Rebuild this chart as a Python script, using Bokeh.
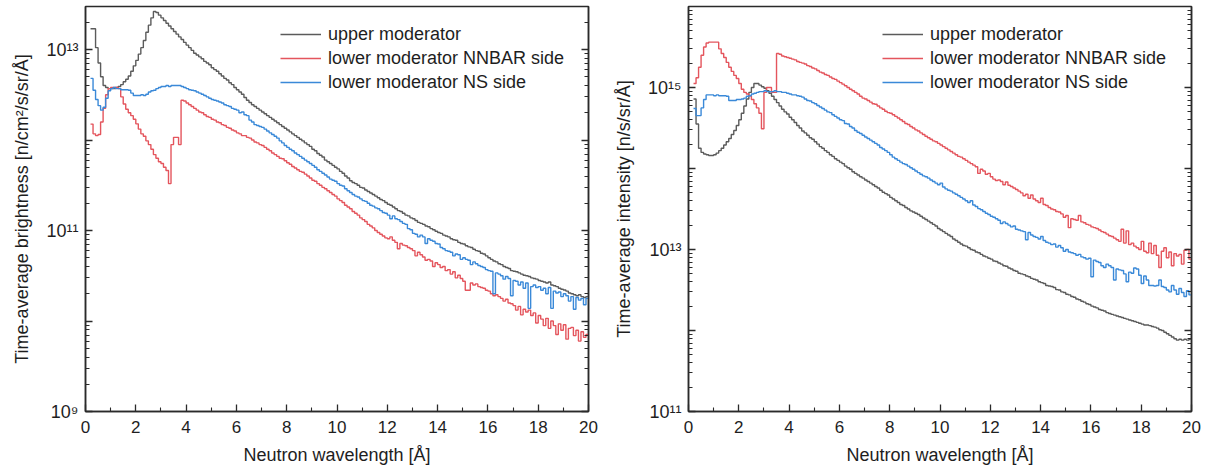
import numpy as np
from bokeh.plotting import figure
from bokeh.layouts import row
from bokeh.models import (Range1d, FixedTicker, CustomJSTickFormatter, LogAxis)
from bokeh.embed import file_html
from bokeh.resources import INLINE

# ---------------- data ----------------
# histogram bin left edges: 0.2 .. 19.9 Å (bin width 0.1 Å), last edge 20.0
bin_start = 0.2
bin_width = 0.1
bin_stop = 20.0

series_names = ["upper moderator", "lower moderator NNBAR side", "lower moderator NS side"]

# Left panel: time-average brightness [n/cm²/s/sr/Å]
brightness_upper = [
    1.7e13, 1.7e13, 1.05e13, 7.1e12, 5.0e12, 4.0e12, 3.8e12, 3.7e12,
    3.7e12, 3.7e12, 3.8e12, 3.9e12, 4.1e12, 4.4e12, 4.7e12, 5.1e12, 5.75e12, 6.6e12,
    7.6e12, 8.9e12, 1.05e13, 1.26e13, 1.55e13, 1.86e13, 2.24e13, 2.63e13, 2.57e13, 2.4e13,
    2.24e13, 2.09e13, 1.95e13, 1.82e13, 1.7e13, 1.58e13, 1.48e13, 1.38e13, 1.29e13, 1.2e13,
    1.12e13, 1.05e13, 9.8e12, 9.1e12, 8.7e12, 8.3e12, 7.9e12, 7.4e12, 7.1e12, 6.8e12,
    6.3e12, 6.0e12, 5.75e12, 5.4e12, 5.1e12, 4.8e12, 4.6e12, 4.3e12, 4.1e12, 3.8e12,
    3.6e12, 3.4e12, 3.2e12, 2.95e12, 2.75e12, 2.6e12, 2.45e12, 2.35e12, 2.24e12, 2.14e12,
    2.04e12, 1.95e12, 1.86e12, 1.78e12, 1.7e12, 1.62e12, 1.55e12, 1.48e12, 1.41e12, 1.35e12,
    1.29e12, 1.23e12, 1.17e12, 1.12e12, 1.07e12, 1.02e12, 9.8e11, 9.3e11, 8.9e11, 8.5e11,
    7.9e11, 7.6e11, 7.1e11, 6.8e11, 6.5e11, 6.0e11, 5.75e11, 5.5e11, 5.25e11, 5.0e11,
    4.8e11, 4.5e11, 4.3e11, 4.0e11, 3.8e11, 3.55e11, 3.4e11, 3.3e11, 3.16e11, 3.0e11,
    2.95e11, 2.8e11, 2.7e11, 2.6e11, 2.5e11, 2.4e11, 2.3e11, 2.2e11, 2.14e11, 2.04e11,
    1.95e11, 1.9e11, 1.82e11, 1.74e11, 1.66e11, 1.62e11, 1.55e11, 1.48e11, 1.45e11, 1.38e11,
    1.35e11, 1.29e11, 1.23e11, 1.2e11, 1.17e11, 1.12e11, 1.1e11, 1.05e11, 1.02e11, 9.8e10,
    9.5e10, 9.3e10, 8.9e10, 8.7e10, 8.5e10, 8.1e10, 7.9e10, 7.8e10, 7.4e10, 7.2e10,
    7.1e10, 6.8e10, 6.6e10, 6.5e10, 6.2e10, 6.0e10, 5.9e10, 5.6e10, 5.5e10, 5.25e10,
    5.0e10, 4.8e10, 4.6e10, 4.5e10, 4.3e10, 4.2e10, 4.0e10, 3.9e10, 3.8e10, 3.6e10,
    3.55e10, 3.5e10, 3.4e10, 3.3e10, 3.2e10, 3.16e10, 3.1e10, 3.0e10, 2.95e10, 2.9e10,
    2.8e10, 2.75e10, 2.7e10, 2.63e10, 2.7e10, 2.5e10, 2.45e10, 2.4e10, 2.3e10, 2.24e10,
    2.2e10, 2.14e10, 2.04e10, 2.0e10, 1.95e10, 1.9e10, 1.95e10, 1.86e10, 1.82e10, 1.86e10,
]
brightness_nnbar = [
    1.5e12, 1.17e12, 1.12e12, 1.15e12, 1.58e12, 2.24e12, 3.16e12, 3.7e12,
    3.8e12, 3.8e12, 3.8e12, 3.7e12, 3.0e12, 2.5e12, 2.19e12, 2.0e12, 1.86e12, 1.7e12,
    1.51e12, 1.32e12, 1.17e12, 1.1e12, 9.8e11, 8.9e11, 7.9e11, 6.9e11, 6.3e11, 5.75e11,
    5.5e11, 5.0e11, 4.6e11, 3.3e11, 8.9e11, 1.07e12, 1.07e12, 8.9e11, 2.75e12, 2.7e12,
    2.57e12, 2.45e12, 2.35e12, 2.24e12, 2.14e12, 2.04e12, 2.0e12, 1.9e12, 1.82e12, 1.78e12,
    1.7e12, 1.66e12, 1.58e12, 1.55e12, 1.48e12, 1.45e12, 1.38e12, 1.35e12, 1.29e12, 1.26e12,
    1.2e12, 1.17e12, 1.12e12, 1.12e12, 1.07e12, 1.05e12, 1.0e12, 9.5e11, 9.3e11, 8.9e11,
    8.7e11, 8.3e11, 7.9e11, 7.6e11, 7.2e11, 6.9e11, 6.6e11, 6.3e11, 6.2e11, 5.9e11,
    5.6e11, 5.4e11, 5.1e11, 4.9e11, 4.7e11, 4.5e11, 4.4e11, 4.2e11, 4.0e11, 3.8e11,
    3.6e11, 3.5e11, 3.3e11, 3.16e11, 3.0e11, 2.9e11, 2.75e11, 2.63e11, 2.5e11, 2.4e11,
    2.24e11, 2.14e11, 2.04e11, 1.9e11, 1.82e11, 1.74e11, 1.62e11, 1.55e11, 1.48e11, 1.38e11,
    1.32e11, 1.26e11, 1.17e11, 1.12e11, 1.07e11, 1.0e11, 9.5e10, 9.1e10, 8.7e10, 8.3e10,
    8.1e10, 8.5e10, 7.8e10, 7.4e10, 6.3e10, 7.2e10, 6.9e10, 6.8e10, 6.5e10, 6.3e10,
    6.0e10, 5.25e10, 5.75e10, 5.4e10, 5.1e10, 4.7e10, 4.8e10, 4.6e10, 4.0e10, 4.4e10,
    4.2e10, 3.9e10, 4.0e10, 3.6e10, 3.7e10, 3.3e10, 3.5e10, 3.0e10, 3.2e10, 2.95e10,
    2.75e10, 2.19e10, 2.19e10, 2.63e10, 2.5e10, 2.57e10, 2.4e10, 2.35e10, 2.3e10, 2.19e10,
    2.14e10, 2.0e10, 1.9e10, 1.95e10, 1.86e10, 1.78e10, 1.66e10, 1.74e10, 1.58e10, 1.55e10,
    1.48e10, 1.32e10, 1.45e10, 1.17e10, 1.35e10, 1.26e10, 1.32e10, 1.15e10, 1.23e10, 9.5e9,
    1.15e10, 1.05e10, 8.9e9, 1.07e10, 8.3e9, 1.0e10, 8.9e9, 7.1e9, 9.3e9, 7.9e9,
    9.1e9, 6.3e9, 8.3e9, 8.5e9, 6.9e9, 7.9e9, 6.0e9, 7.6e9, 6.6e9, 7.1e9,
]
brightness_ns = [
    4.8e12, 3.55e12, 2.8e12, 2.4e12, 2.14e12, 2.3e12, 2.9e12, 3.5e12,
    3.7e12, 3.8e12, 3.7e12, 3.7e12, 3.6e12, 3.6e12, 3.6e12, 3.55e12, 3.3e12, 3.1e12,
    3.1e12, 3.1e12, 3.16e12, 3.1e12, 3.2e12, 3.4e12, 3.5e12, 3.55e12, 3.7e12, 3.8e12,
    3.9e12, 3.9e12, 4.0e12, 3.9e12, 4.0e12, 4.0e12, 4.0e12, 4.0e12, 3.9e12, 3.8e12,
    3.7e12, 3.6e12, 3.55e12, 3.5e12, 3.4e12, 3.3e12, 3.2e12, 3.1e12, 3.0e12, 2.9e12,
    2.8e12, 2.75e12, 2.7e12, 2.63e12, 2.57e12, 2.45e12, 2.4e12, 2.35e12, 2.24e12, 2.19e12,
    2.14e12, 2.0e12, 2.04e12, 1.9e12, 1.86e12, 1.66e12, 1.58e12, 1.48e12, 1.45e12, 1.41e12,
    1.38e12, 1.32e12, 1.26e12, 1.2e12, 1.15e12, 1.1e12, 1.05e12, 9.8e11, 9.3e11, 8.7e11,
    8.3e11, 7.9e11, 7.6e11, 7.2e11, 6.9e11, 6.6e11, 6.3e11, 6.0e11, 5.75e11, 5.5e11,
    5.25e11, 5.0e11, 4.7e11, 4.5e11, 4.3e11, 4.1e11, 3.9e11, 3.7e11, 3.6e11, 3.5e11,
    3.3e11, 3.16e11, 3.1e11, 2.9e11, 2.75e11, 2.63e11, 2.5e11, 2.4e11, 2.35e11, 2.24e11,
    2.14e11, 2.1e11, 2.0e11, 1.9e11, 1.86e11, 1.78e11, 1.74e11, 1.66e11, 1.58e11, 1.55e11,
    1.48e11, 1.35e11, 1.45e11, 1.35e11, 1.32e11, 1.26e11, 1.2e11, 1.17e11, 1.05e11, 1.02e11,
    9.3e10, 9.1e10, 8.5e10, 8.9e10, 8.5e10, 7.2e10, 8.1e10, 7.8e10, 7.6e10, 7.2e10,
    7.1e10, 6.5e10, 6.3e10, 6.0e10, 5.9e10, 5.75e10, 5.25e10, 5.5e10, 5.4e10, 4.8e10,
    5.0e10, 4.8e10, 4.7e10, 4.2e10, 4.5e10, 4.3e10, 4.1e10, 4.0e10, 3.9e10, 3.7e10,
    3.6e10, 3.55e10, 2.0e10, 3.4e10, 3.3e10, 3.16e10, 2.9e10, 3.1e10, 2.95e10, 1.9e10,
    2.8e10, 2.75e10, 2.5e10, 2.7e10, 2.3e10, 2.63e10, 1.38e10, 2.4e10, 2.5e10, 2.35e10,
    2.4e10, 2.19e10, 2.3e10, 2.0e10, 2.35e10, 1.38e10, 2.14e10, 2.04e10, 2.09e10, 1.86e10,
    2.0e10, 1.9e10, 1.66e10, 1.86e10, 1.35e10, 1.82e10, 1.7e10, 1.78e10, 1.51e10, 1.78e10,
]

# Right panel: time-average intensity [n/s/sr/Å]
intensity_upper = [
    7.2e14, 3.55e14, 1.78e14, 1.58e14, 1.51e14, 1.48e14, 1.45e14, 1.45e14,
    1.48e14, 1.55e14, 1.66e14, 1.78e14, 1.95e14, 2.14e14, 2.35e14, 2.63e14, 2.95e14, 3.4e14,
    4.0e14, 4.8e14, 5.9e14, 7.2e14, 8.7e14, 1.0e15, 1.12e15, 1.12e15, 1.07e15, 1.02e15,
    9.8e14, 9.1e14, 8.5e14, 7.8e14, 7.1e14, 6.5e14, 5.9e14, 5.4e14, 5.0e14, 4.7e14,
    4.3e14, 4.0e14, 3.7e14, 3.4e14, 3.16e14, 2.9e14, 2.75e14, 2.57e14, 2.4e14, 2.3e14,
    2.14e14, 2.0e14, 1.86e14, 1.78e14, 1.66e14, 1.58e14, 1.48e14, 1.41e14, 1.32e14, 1.26e14,
    1.2e14, 1.15e14, 1.07e14, 1.02e14, 9.8e13, 9.1e13, 8.7e13, 8.3e13, 7.9e13, 7.6e13,
    7.2e13, 6.9e13, 6.6e13, 6.3e13, 6.0e13, 5.75e13, 5.4e13, 5.1e13, 4.9e13, 4.7e13,
    4.4e13, 4.2e13, 4.0e13, 3.8e13, 3.6e13, 3.5e13, 3.3e13, 3.16e13, 3.0e13, 2.9e13,
    2.8e13, 2.7e13, 2.57e13, 2.45e13, 2.35e13, 2.24e13, 2.14e13, 2.04e13, 1.95e13, 1.82e13,
    1.74e13, 1.66e13, 1.58e13, 1.51e13, 1.45e13, 1.35e13, 1.29e13, 1.23e13, 1.17e13, 1.12e13,
    1.1e13, 1.05e13, 1.0e13, 9.8e12, 9.3e12, 9.1e12, 8.7e12, 8.3e12, 8.1e12, 7.8e12,
    7.6e12, 7.2e12, 7.1e12, 6.8e12, 6.6e12, 6.3e12, 6.2e12, 5.9e12, 5.75e12, 5.5e12,
    5.4e12, 5.1e12, 5.0e12, 4.9e12, 4.7e12, 4.6e12, 4.4e12, 4.3e12, 4.2e12, 4.0e12,
    3.9e12, 3.8e12, 3.6e12, 3.55e12, 3.5e12, 3.4e12, 3.2e12, 3.16e12, 3.0e12, 2.95e12,
    2.8e12, 2.75e12, 2.63e12, 2.57e12, 2.45e12, 2.4e12, 2.3e12, 2.24e12, 2.14e12, 2.09e12,
    2.0e12, 1.95e12, 1.9e12, 1.82e12, 1.78e12, 1.74e12, 1.66e12, 1.62e12, 1.58e12, 1.55e12,
    1.51e12, 1.48e12, 1.45e12, 1.41e12, 1.38e12, 1.35e12, 1.32e12, 1.29e12, 1.26e12, 1.23e12,
    1.2e12, 1.17e12, 1.17e12, 1.15e12, 1.12e12, 1.1e12, 1.07e12, 1.02e12, 1.0e12, 9.5e11,
    9.1e11, 8.7e11, 8.3e11, 7.9e11, 7.6e11, 7.8e11, 7.6e11, 7.8e11, 7.6e11, 7.8e11,
]
intensity_nnbar = [
    1.12e15, 1.32e15, 1.78e15, 2.5e15, 3.16e15, 3.55e15, 3.63e15, 3.63e15,
    3.63e15, 3.63e15, 3.0e15, 2.63e15, 2.35e15, 2.04e15, 1.78e15, 1.58e15, 1.41e15, 1.29e15,
    1.12e15, 9.5e14, 8.7e14, 8.3e14, 7.9e14, 7.1e14, 6.3e14, 5.6e14, 4.8e14, 3.1e14,
    8.7e14, 1.0e15, 1.0e15, 8.7e14, 8.7e14, 2.63e15, 2.57e15, 2.45e15, 2.4e15, 2.35e15,
    2.3e15, 2.24e15, 2.19e15, 2.09e15, 2.04e15, 2.0e15, 1.95e15, 1.86e15, 1.82e15, 1.74e15,
    1.7e15, 1.62e15, 1.55e15, 1.51e15, 1.45e15, 1.41e15, 1.35e15, 1.29e15, 1.26e15, 1.2e15,
    1.15e15, 1.1e15, 1.05e15, 1.0e15, 9.5e14, 9.1e14, 8.7e14, 8.3e14, 7.8e14, 7.4e14,
    7.2e14, 6.9e14, 6.6e14, 6.3e14, 6.2e14, 5.9e14, 5.6e14, 5.4e14, 5.1e14, 4.9e14,
    4.8e14, 4.6e14, 4.4e14, 4.2e14, 4.0e14, 3.8e14, 3.6e14, 3.5e14, 3.3e14, 3.16e14,
    3.0e14, 2.9e14, 2.75e14, 2.63e14, 2.5e14, 2.4e14, 2.3e14, 2.19e14, 2.14e14, 2.04e14,
    1.95e14, 1.86e14, 1.78e14, 1.7e14, 1.62e14, 1.55e14, 1.48e14, 1.41e14, 1.38e14, 1.32e14,
    1.26e14, 1.2e14, 1.15e14, 1.1e14, 1.05e14, 8.7e13, 9.8e13, 9.3e13, 8.5e13, 8.7e13,
    7.9e13, 7.4e13, 7.1e13, 7.2e13, 6.9e13, 6.3e13, 6.8e13, 6.2e13, 6.0e13, 5.75e13,
    5.5e13, 5.25e13, 5.0e13, 4.6e13, 4.8e13, 4.3e13, 4.7e13, 4.2e13, 4.0e13, 3.8e13,
    4.3e13, 3.6e13, 3.5e13, 3.3e13, 3.16e13, 3.1e13, 2.95e13, 2.9e13, 2.75e13, 2.5e13,
    2.63e13, 1.86e13, 2.4e13, 2.35e13, 2.3e13, 2.63e13, 2.19e13, 2.14e13, 2.04e13, 2.0e13,
    1.9e13, 1.86e13, 1.82e13, 1.74e13, 1.66e13, 1.62e13, 1.55e13, 1.48e13, 1.45e13, 1.38e13,
    1.32e13, 1.26e13, 1.78e13, 1.2e13, 1.7e13, 1.15e13, 1.2e13, 1.1e13, 1.05e13, 1.0e13,
    1.26e13, 9.5e12, 9.1e12, 1.2e13, 8.9e12, 1.12e13, 8.5e12, 6.0e12, 9.5e12, 1.05e13,
    7.9e12, 9.3e12, 6.3e12, 8.9e12, 8.3e12, 8.7e12, 6.6e12, 9.8e12, 1.0e13, 7.6e12,
]
intensity_ns = [
    5.5e14, 4.5e14, 4.5e14, 5.6e14, 7.1e14, 8.1e14, 8.1e14, 8.1e14,
    7.9e14, 8.1e14, 7.9e14, 7.9e14, 7.9e14, 7.8e14, 6.9e14, 6.9e14, 6.9e14, 7.1e14,
    7.1e14, 7.2e14, 7.4e14, 7.8e14, 7.9e14, 8.3e14, 8.5e14, 8.7e14, 8.9e14, 8.9e14,
    9.1e14, 8.9e14, 8.9e14, 8.9e14, 9.1e14, 8.9e14, 8.9e14, 8.7e14, 8.7e14, 8.5e14,
    8.3e14, 8.1e14, 8.1e14, 7.9e14, 7.8e14, 7.6e14, 7.2e14, 6.9e14, 6.8e14, 6.5e14,
    6.3e14, 6.0e14, 5.75e14, 5.5e14, 5.25e14, 5.0e14, 4.9e14, 4.6e14, 4.4e14, 4.2e14,
    4.0e14, 3.9e14, 3.6e14, 3.55e14, 3.3e14, 3.16e14, 2.95e14, 2.8e14, 2.7e14, 2.57e14,
    2.45e14, 2.35e14, 2.24e14, 2.14e14, 2.04e14, 1.95e14, 1.82e14, 1.74e14, 1.66e14, 1.58e14,
    1.48e14, 1.38e14, 1.32e14, 1.26e14, 1.2e14, 1.15e14, 1.12e14, 1.07e14, 1.02e14, 9.8e13,
    9.3e13, 8.9e13, 8.5e13, 8.1e13, 7.9e13, 7.6e13, 7.2e13, 6.9e13, 6.6e13, 6.3e13,
    6.6e13, 5.9e13, 5.6e13, 5.4e13, 5.25e13, 5.0e13, 4.8e13, 4.6e13, 4.4e13, 4.2e13,
    4.0e13, 3.8e13, 4.0e13, 3.55e13, 3.4e13, 3.2e13, 3.1e13, 2.95e13, 2.8e13, 2.7e13,
    2.57e13, 2.5e13, 2.4e13, 2.3e13, 2.09e13, 2.19e13, 2.09e13, 2.0e13, 1.9e13, 1.95e13,
    1.78e13, 1.74e13, 1.7e13, 1.66e13, 1.32e13, 1.62e13, 1.51e13, 1.45e13, 1.41e13, 1.35e13,
    1.45e13, 1.29e13, 1.23e13, 1.2e13, 1.15e13, 1.17e13, 1.07e13, 1.12e13, 1.05e13, 9.5e12,
    1.0e13, 9.3e12, 9.1e12, 8.9e12, 8.5e12, 8.7e12, 8.1e12, 7.9e12, 7.6e12, 7.8e12,
    4.6e12, 7.4e12, 7.1e12, 6.9e12, 6.3e12, 6.0e12, 6.6e12, 6.3e12, 6.0e12, 4.2e12,
    5.75e12, 5.6e12, 5.5e12, 5.0e12, 4.0e12, 5.25e12, 5.1e12, 5.9e12, 5.75e12, 4.8e12,
    3.8e12, 4.7e12, 4.2e12, 3.6e12, 3.6e12, 3.55e12, 3.6e12, 4.2e12, 3.5e12, 3.4e12,
    3.16e12, 3.0e12, 3.6e12, 3.16e12, 2.8e12, 3.3e12, 2.95e12, 2.63e12, 3.1e12, 2.75e12,
]

# axis ticks / labels
x_ticks = [0, 2, 4, 6, 8, 10, 12, 14, 16, 18, 20]
x_minor_ticks = [1, 3, 5, 7, 9, 11, 13, 15, 17, 19]
left_y_ticks = [1e9, 1e10, 1e11, 1e12, 1e13]
left_y_labels = ["10⁹", "", "10¹¹", "", "10¹³"]
right_y_ticks = [1e11, 1e12, 1e13, 1e14, 1e15]
right_y_labels = ["10¹¹", "", "10¹³", "", "10¹⁵"]

left_y_title = "Time-average brightness [n/cm²/s/sr/Å]"
right_y_title = "Time-average intensity [n/s/sr/Å]"
x_title = "Neutron wavelength [Å]"

# ---------------- styling ----------------
COLORS = ["#5b5b5b", "#e4555d", "#3a89d8"]
FONT = "Liberation Sans"
TXT = "#1e1e1e"
AX = "#2a2a2a"


def minor_log(ticks):
    out = []
    for t in ticks:
        for m in range(2, 10):
            out.append(t * m)
    return out


def make_panel(y_lo, y_hi, y_ticks, y_labels, y_title, series, legend_xy,
               min_left, min_right):
    p = figure(output_backend="svg", toolbar_location=None,
               frame_width=503, frame_height=405,
               min_border_left=min_left, min_border_right=min_right,
               min_border_top=6, min_border_bottom=52,
               x_range=Range1d(0, 20), y_range=Range1d(y_lo, y_hi),
               y_axis_type="log", background_fill_color="white",
               border_fill_color="white")
    p.xgrid.grid_line_color = None
    p.ygrid.grid_line_color = None
    p.outline_line_color = AX
    p.outline_line_width = 1.5

    edges = [round(bin_start + i * bin_width, 1) for i in range(len(series[0][1]))] + [bin_stop]
    for (name, vals), col in zip(series, COLORS):
        p.step(x=edges, y=list(vals) + [vals[-1]], mode="after",
               line_color=col, line_width=1.4, legend_label=name)

    yt = FixedTicker(ticks=y_ticks, minor_ticks=minor_log(y_ticks))
    yfmt = CustomJSTickFormatter(args=dict(tvals=y_ticks, tlabels=y_labels), code="""
        for (let i = 0; i < tvals.length; i++) {
            if (Math.abs(Math.log10(tick) - Math.log10(tvals[i])) < 1e-6) return tlabels[i];
        }
        return "";
    """)
    xt = FixedTicker(ticks=x_ticks, minor_ticks=x_minor_ticks)

    for ax in p.xaxis:
        ax.ticker = xt
        ax.axis_label = x_title
    for ax in p.yaxis:
        ax.ticker = yt
        ax.formatter = yfmt
        ax.axis_label = y_title

    # mirrored tick marks on the right side
    ra = LogAxis(ticker=yt, formatter=CustomJSTickFormatter(code="return '';"))
    p.add_layout(ra, "right")

    for ax in list(p.xaxis) + list(p.yaxis):
        ax.axis_line_color = AX
        ax.axis_line_width = 1.5
        ax.major_tick_line_color = AX
        ax.minor_tick_line_color = AX
        ax.major_tick_line_width = 1.3
        ax.minor_tick_line_width = 1.1
        ax.major_tick_in = 7
        ax.major_tick_out = 0
        ax.minor_tick_in = 4
        ax.minor_tick_out = 0
        ax.major_label_text_font = FONT
        ax.major_label_text_color = TXT
        ax.axis_label_text_font = FONT
        ax.axis_label_text_color = TXT
        ax.axis_label_text_font_style = "normal"
        ax.axis_label_text_font_size = "18px"
    for ax in p.xaxis:
        ax.major_label_text_font_size = "17px"
        ax.major_label_standoff = 9
        ax.axis_label_standoff = 9
    for ax in p.yaxis:
        ax.major_label_text_font_size = "18px"
        ax.major_label_standoff = 7
        ax.axis_label_standoff = 11
    ra.major_label_standoff = 0
    ra.major_label_text_font_size = "1px"

    lg = p.legend[0]
    lg.location = legend_xy
    lg.border_line_color = None
    lg.background_fill_alpha = 0
    lg.padding = 0
    lg.margin = 0
    lg.spacing = 0
    lg.glyph_width = 41
    lg.glyph_height = 24
    lg.label_height = 24
    lg.label_standoff = 7
    lg.label_text_font = FONT
    lg.label_text_font_size = "18px"
    lg.label_text_color = TXT
    return p


left = make_panel(1e9, 2.99e13, left_y_ticks, left_y_labels, left_y_title,
                  list(zip(series_names, [brightness_upper, brightness_nnbar, brightness_ns])),
                  (195, 317), 85, 20)
right = make_panel(1e11, 1.0e16, right_y_ticks, right_y_labels, right_y_title,
                   list(zip(series_names, [intensity_upper, intensity_nnbar, intensity_ns])),
                   (194, 317), 80, 12)

layout = row(left, right)
open("out.html", "w").write(file_html(layout, INLINE))
